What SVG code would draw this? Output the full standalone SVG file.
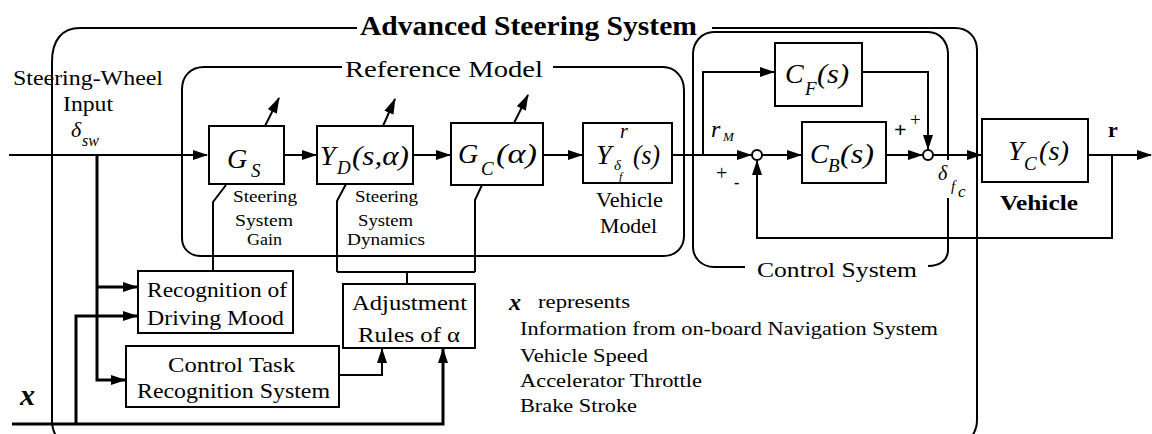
<svg xmlns="http://www.w3.org/2000/svg" width="1152" height="434" viewBox="0 0 1152 434" font-family="'Liberation Serif','Times New Roman',Times,serif">
<style>
.ln{fill:none;stroke:#000;stroke-width:2}
.th{stroke-width:3}
.box{fill:#fff;stroke:#000;stroke-width:2}
.fr{fill:none;stroke:#000;stroke-width:2}
.t{font-family:'Liberation Serif','Times New Roman',Times,serif;fill:#000}
.i{font-style:italic}
.b{font-weight:bold}
.s16{font-size:16px}
.s19{font-size:19px}
.s21{font-size:21px}
.s22{font-size:22px}
.m{font-family:'Liberation Serif','Times New Roman',Times,serif;font-style:italic;fill:#000;font-size:28px}
.sub{font-family:'Liberation Serif','Times New Roman',Times,serif;font-style:italic;fill:#000;font-size:19px}
</style>
<defs>
<marker id="ah" markerWidth="15" markerHeight="10" refX="14" refY="5" orient="auto" markerUnits="userSpaceOnUse"><path d="M0,0 L15,5 L0,10 Z" fill="#000"/></marker>
<marker id="ah2" markerWidth="16" markerHeight="10" refX="15" refY="5" orient="auto" markerUnits="userSpaceOnUse"><path d="M0,0 L16,5 L0,10 Z" fill="#000"/></marker>
</defs>
<rect width="1152" height="434" fill="#fff"/>

<g id="frames">
<g id="advanced-steering-system">
<path class="fr" d="M357,28 H80 C62,28 52,40 52,62 V420 C52,432 58,445 72,445 H955 C968,445 977,433 977,420 V50 C977,37 968,28 955,28 H712"/>
<text class="t b" x="360" y="35" font-size="28" textLength="337" lengthAdjust="spacingAndGlyphs">Advanced Steering System</text>
</g>
<g id="reference-model">
<path class="fr" d="M342,67 H204 C191,67 182,76 182,89 V238 C182,249 190,256 201,256 H664 C675,256 684,248 684,236 V90 C684,77 675,67 663,67 H553"/>
<text class="t" x="345" y="77" font-size="24" textLength="198" lengthAdjust="spacingAndGlyphs">Reference Model</text>
</g>
<g id="control-system">
<path class="fr" d="M745,267 H714 C702,267 693,258 693,247 V54 C693,42 702,32 714,32 H928 C940,32 948,42 948,54 V160 M948,198 V250 C948,260 940,266 928,266"/>
<text class="t" x="757" y="277" font-size="22" textLength="160" lengthAdjust="spacingAndGlyphs">Control System</text>
</g>
</g>

<g id="connectors">
<path class="ln" d="M9,155 H207" marker-end="url(#ah)"/>
<path class="ln" d="M284,155 H316" marker-end="url(#ah)"/>
<path class="ln" d="M413,155 H450" marker-end="url(#ah)"/>
<path class="ln" d="M543,155 H582" marker-end="url(#ah)"/>
<path class="ln" d="M672,155 H751" marker-end="url(#ah)"/>
<path class="ln" d="M703,155 V72 H774" marker-end="url(#ah)"/>
<path class="ln" d="M762,155 H801" marker-end="url(#ah)"/>
<path class="ln" d="M886,155 H922" marker-end="url(#ah)"/>
<path class="ln" d="M862,72 H928 V149" marker-end="url(#ah)"/>
<path class="ln" d="M933,155 H981" marker-end="url(#ah)"/>
<path class="ln" d="M1088,155 H1151" marker-end="url(#ah)"/>
<path class="ln" d="M1112,155 V238 H757 V161" marker-end="url(#ah)"/>
<path class="ln th" d="M97,155 V380 H125" marker-end="url(#ah)"/>
<path class="ln th" d="M97,287 H137" marker-end="url(#ah)"/>
<path class="ln th" d="M12,424 H443 V349" marker-end="url(#ah)"/>
<path class="ln th" d="M76,424 V316 H137" marker-end="url(#ah)"/>
<path class="ln" d="M339,375 H382 V349" marker-end="url(#ah)"/>
<path class="ln" d="M213,271 V202 L226,185"/>
<path class="ln" d="M337,272 V201 L346,184"/>
<path class="ln" d="M475,272 V200 L482,185"/>
<path class="ln" d="M337,272 H475 M407,272 V284"/>
<path class="ln" d="M265,126 L279,98" marker-end="url(#ah2)"/>
<path class="ln" d="M383,126 L395,99" marker-end="url(#ah2)"/>
<path class="ln" d="M514,123 L528,95" marker-end="url(#ah2)"/>
</g>

<g id="input-label">
<text class="t" x="13" y="85" font-size="20" textLength="150" lengthAdjust="spacingAndGlyphs">Steering-Wheel</text>
<text class="t" x="63" y="111" font-size="20" textLength="50" lengthAdjust="spacingAndGlyphs">Input</text>
<text class="t i" x="71" y="137" font-size="22">δ</text>
<text class="t i" x="82" y="146" font-size="16">sw</text>
</g>

<g id="node-gs">
<rect class="box" x="209" y="126" width="75" height="58"/>
<text class="m" x="227" y="168" font-size="30">G</text>
<text class="sub" x="251" y="177" font-size="22">S</text>
<text class="t s16" x="233" y="202" textLength="64" lengthAdjust="spacingAndGlyphs">Steering</text>
<text class="t s16" x="235" y="226" textLength="58" lengthAdjust="spacingAndGlyphs">System</text>
<text class="t s16" x="247" y="245" textLength="35" lengthAdjust="spacingAndGlyphs">Gain</text>
</g>

<g id="node-yd">
<rect class="box" x="317" y="126" width="96" height="58"/>
<text class="m" x="320" y="165">Y</text>
<text class="sub" x="337" y="174">D</text>
<text class="m" x="352" y="165" textLength="57" lengthAdjust="spacingAndGlyphs">(s,α)</text>
<text class="t s16" x="355" y="202" textLength="63" lengthAdjust="spacingAndGlyphs">Steering</text>
<text class="t s16" x="358" y="226" textLength="55" lengthAdjust="spacingAndGlyphs">System</text>
<text class="t s16" x="347" y="245" textLength="78" lengthAdjust="spacingAndGlyphs">Dynamics</text>
</g>

<g id="node-gc">
<rect class="box" x="451" y="123" width="92" height="62"/>
<text class="m" x="458" y="163">G</text>
<text class="sub" x="481" y="175">C</text>
<text class="m" x="496" y="163" textLength="41" lengthAdjust="spacingAndGlyphs">(α)</text>
</g>

<g id="node-vehicle-model">
<rect class="box" x="583" y="123" width="89" height="60"/>
<text class="m" x="596" y="164">Y</text>
<text class="t i" x="620" y="138" font-size="20">r</text>
<text class="t i" x="614" y="170" font-size="15">δ</text>
<text class="t i" x="619" y="181" font-size="12">f</text>
<text class="m" x="633" y="164" textLength="27" lengthAdjust="spacingAndGlyphs">(s)</text>
<text class="t s21" x="596" y="207" textLength="67" lengthAdjust="spacingAndGlyphs">Vehicle</text>
<text class="t s21" x="600" y="233" textLength="57" lengthAdjust="spacingAndGlyphs">Model</text>
</g>

<g id="junction-1">
<circle cx="757" cy="155" r="5" fill="#fff" stroke="#000" stroke-width="2"/>
<text class="t i" x="711" y="137" font-size="24">r</text>
<text class="t i" x="723" y="141" font-size="13">M</text>
<text class="t" x="716" y="180" font-size="20">+</text>
<text class="t b" x="734" y="188" font-size="16">-</text>
</g>

<g id="node-cf">
<rect class="box" x="775" y="43" width="87" height="63"/>
<text class="m" x="785" y="83">C</text>
<text class="sub" x="805" y="95">F</text>
<text class="m" x="817" y="83" textLength="32" lengthAdjust="spacingAndGlyphs">(s)</text>
</g>

<g id="node-cb">
<rect class="box" x="802" y="122" width="84" height="61"/>
<text class="m" x="810" y="163">C</text>
<text class="sub" x="828" y="172">B</text>
<text class="m" x="840" y="163" textLength="34" lengthAdjust="spacingAndGlyphs">(s)</text>
</g>

<g id="junction-2">
<circle cx="928" cy="155" r="5" fill="#fff" stroke="#000" stroke-width="2"/>
<text class="t b" x="894" y="137" font-size="22">+</text>
<text class="t" x="910" y="126" font-size="19">+</text>
<text class="t i" x="938" y="180" font-size="20">δ</text>
<text class="t i" x="951" y="191" font-size="15">f</text>
<text class="t i" x="958" y="197" font-size="17">c</text>
</g>

<g id="node-yc">
<rect class="box" x="982" y="119" width="106" height="63"/>
<text class="m" x="1008" y="160">Y</text>
<text class="sub" x="1024" y="170">C</text>
<text class="m" x="1039" y="160" textLength="30" lengthAdjust="spacingAndGlyphs">(s)</text>
<text class="t b s22" x="1000" y="210" textLength="78" lengthAdjust="spacingAndGlyphs">Vehicle</text>
<text class="t b" x="1108" y="137" font-size="22">r</text>
</g>

<g id="node-recognition-mood">
<rect class="box" x="138" y="271" width="155" height="62"/>
<text class="t s22" x="147" y="297" textLength="140" lengthAdjust="spacingAndGlyphs">Recognition of</text>
<text class="t s22" x="147" y="325" textLength="137" lengthAdjust="spacingAndGlyphs">Driving Mood</text>
</g>

<g id="node-control-task">
<rect class="box" x="126" y="346" width="213" height="61"/>
<text class="t s22" x="168" y="372" textLength="127" lengthAdjust="spacingAndGlyphs">Control Task</text>
<text class="t s22" x="137" y="398" textLength="193" lengthAdjust="spacingAndGlyphs">Recognition System</text>
</g>

<g id="node-adjustment">
<rect class="box" x="343" y="284" width="132" height="64"/>
<text class="t s22" x="352" y="310" textLength="115" lengthAdjust="spacingAndGlyphs">Adjustment</text>
<text class="t s22" x="358" y="342" textLength="102" lengthAdjust="spacingAndGlyphs">Rules of α</text>
</g>

<g id="x-input">
<text class="t b i" x="20" y="405" font-size="30">x</text>
</g>

<g id="legend">
<text class="t b i" x="509" y="310" font-size="24">x</text>
<text class="t s19" x="538" y="308" textLength="92" lengthAdjust="spacingAndGlyphs">represents</text>
<text class="t s19" x="520" y="335" textLength="418" lengthAdjust="spacingAndGlyphs">Information from on-board Navigation System</text>
<text class="t s19" x="520" y="362" textLength="128" lengthAdjust="spacingAndGlyphs">Vehicle Speed</text>
<text class="t s19" x="520" y="387" textLength="182" lengthAdjust="spacingAndGlyphs">Accelerator Throttle</text>
<text class="t s19" x="520" y="412" textLength="117" lengthAdjust="spacingAndGlyphs">Brake Stroke</text>
</g>
</svg>
